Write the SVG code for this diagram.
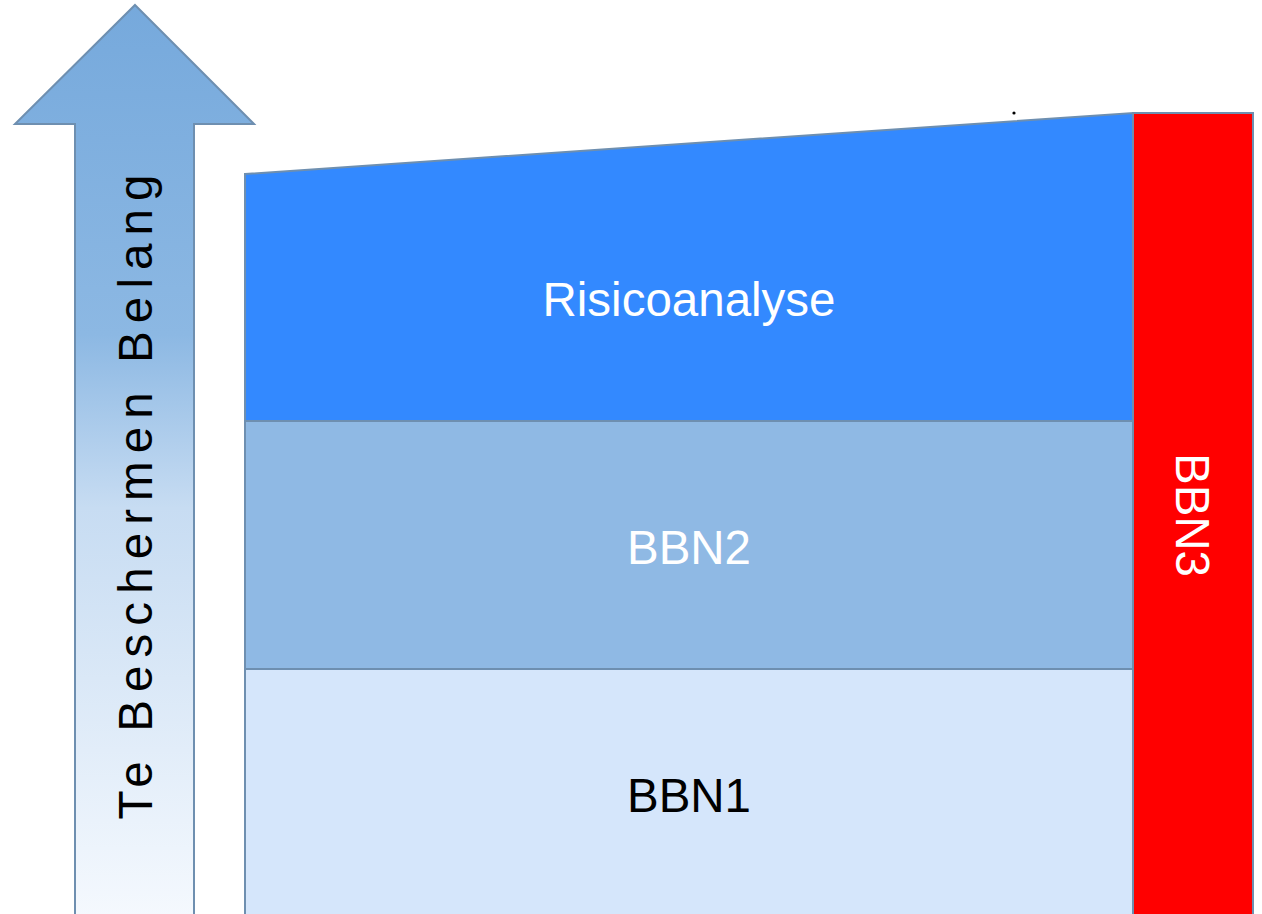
<svg xmlns="http://www.w3.org/2000/svg" width="1262" height="914" viewBox="0 0 1262 914">
<style>
.sh{stroke:#6e8fb0;stroke-width:2}
.lbl{font-family:"Liberation Sans",Arial,sans-serif;font-size:47.5px;text-anchor:middle}
</style>
<defs>
<linearGradient id="ag" x1="0" y1="0" x2="0" y2="1">
<stop offset="0" stop-color="#76a9dc"/>
<stop offset="0.36" stop-color="#8cb8e3"/>
<stop offset="0.55" stop-color="#c7dcf2"/>
<stop offset="1" stop-color="#f5f9fe"/>
</linearGradient>
</defs>
<rect width="1262" height="914" fill="#fff"/>
<g id="arrow">
<polygon class="sh" fill="url(#ag)" points="135,5 254,124 194,124 194,920 75,920 75,124 15,124"/>
<text class="lbl" fill="#000" transform="translate(152,497) rotate(-90)" textLength="645" lengthAdjust="spacing">Te Beschermen Belang</text>
</g>
<g id="risicoanalyse">
<polygon class="sh" fill="#3389ff" points="245,174 1133,113 1133,421 245,421"/>
<text class="lbl" fill="#fff" x="689" y="316">Risicoanalyse</text>
</g>
<g id="bbn2">
<rect class="sh" fill="#8fb9e4" x="245" y="421" width="888" height="248"/>
<text class="lbl" fill="#fff" x="689" y="564">BBN2</text>
</g>
<g id="bbn1">
<rect class="sh" fill="#d5e6fb" x="245" y="669" width="888" height="260"/>
<text class="lbl" fill="#000" x="689" y="812">BBN1</text>
</g>
<g id="bbn3">
<rect class="sh" fill="#ff0000" x="1133" y="113" width="120" height="820"/>
<text class="lbl" fill="#fff" transform="translate(1176,515) rotate(90)">BBN3</text>
</g>
<circle cx="1014" cy="113" r="1.6" fill="#000"/>
</svg>
